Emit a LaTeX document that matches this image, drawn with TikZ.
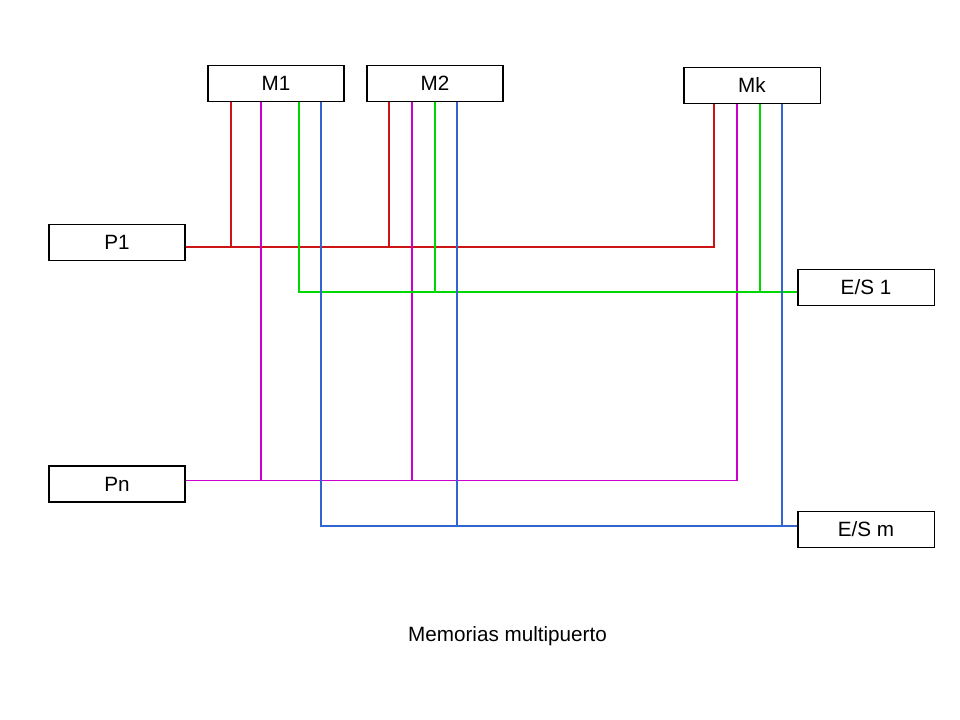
\documentclass[tikz,border=0pt]{standalone}
\usepackage{fontspec}
\setmainfont{Liberation Sans}
\definecolor{busred}{RGB}{204,20,20}
\definecolor{busmag}{RGB}{204,0,204}
\definecolor{busgreen}{RGB}{0,215,0}
\definecolor{busblue}{RGB}{50,100,210}
\tikzset{
  unit/.style={draw=black,line width=0.75pt,minimum width=3.4cm,minimum height=0.9cm,inner sep=0pt,font=\fontsize{14.7}{17}\selectfont},
  bus/.style={line width=0.9pt}
}
\begin{document}
\begin{tikzpicture}[x=0.025cm,y=-0.025cm]
    \useasboundingbox (0,0) rectangle (960,720);
    \node[unit] (m1) at (276,83.5) {M1};
    \node[unit] (m2) at (435,83.5) {M2};
    \node[unit] (mk) at (752,85.5) {Mk};
    \node[unit] (p1) at (117,242.5) {P1};
    \node[unit] (pn) at (117,484) {Pn};
    \node[unit] (es1) at (866,287.5) {E/S 1};
    \node[unit] (esm) at (866,529.5) {E/S m};
    \node[font=\fontsize{14.7}{17}\selectfont] (cap) at (507.5,636) {Memorias multipuerto};

    \path (m1.south west) ++(23.5,0) coordinate (m1r) ++(30,0) coordinate (m1m) ++(38,0) coordinate (m1g) ++(22,0) coordinate (m1b);
    \path (m2.south west) ++(22.5,0) coordinate (m2r) ++(23,0) coordinate (m2m) ++(23,0) coordinate (m2g) ++(22,0) coordinate (m2b);
    \path (mk.south west) ++(30.5,0) coordinate (mkr) ++(23,0) coordinate (mkm) ++(23,0) coordinate (mkg) ++(22,0) coordinate (mkb);
    \coordinate (p1o) at ([yshift=-0.11cm]p1.east);
    \coordinate (pno) at ([yshift=0.08cm]pn.east);
    \coordinate (es1o) at ([yshift=-0.11cm]es1.west);
    \coordinate (esmo) at ([yshift=0.09cm]esm.west);

    \draw[bus,busred] (p1o) -| (mkr) (m1r) -- (m1r |- p1o) (m2r) -- (m2r |- p1o);
    \draw[bus,busmag] (pno) -| (mkm) (m1m) -- (m1m |- pno) (m2m) -- (m2m |- pno);
    \draw[bus,busgreen] (es1o) -| (m1g) (m2g) -- (m2g |- es1o) (mkg) -- (mkg |- es1o);
    \draw[bus,busblue] (esmo) -| (m1b) (m2b) -- (m2b |- esmo) (mkb) -- (mkb |- esmo);
\end{tikzpicture}
\end{document}
